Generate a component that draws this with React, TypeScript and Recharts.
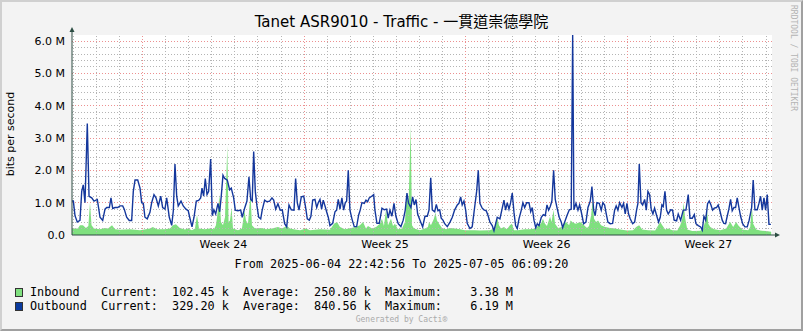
import React from 'react';
import { ComposedChart, Area, Line, XAxis, YAxis, ReferenceLine, CartesianGrid } from 'recharts';

// time axis in hours since 2025-06-04 22:42:56
const TOTAL_HOURS = 727.44;
const FIRST_MIDNIGHT = 1.285;
const weekLabels = ['Week 24', 'Week 25', 'Week 26', 'Week 27'];
const sundayIndexes = [3, 10, 17, 24];
const yTicks = [0, 1, 2, 3, 4, 5, 6];
const Y_MAX = 6.19;

// [hour, Mbit/s]
const inbound: [number, number][] = [
  [0, 0.2], [6, 0.2], [8.3, 0.3], [11.4, 0.3], [14.5, 0.22], [17, 0.28], [18.7, 1.0], [20.3, 0.3], [22.9, 0.2],
  [29, 0.18], [34.3, 0.22], [37.4, 0.2], [41.6, 0.3], [44.7, 0.18], [50, 0.16], [60, 0.18], [70.7, 0.15],
  [81, 0.2], [84, 0.25], [88.3, 0.18], [96.6, 0.18], [101.8, 0.2], [105, 0.3], [108, 0.33], [112, 0.22],
  [117.4, 0.17], [120.5, 0.2], [124.7, 0.15], [127.8, 0.2], [129.9, 0.62], [132, 0.2], [138, 0.18],
  [143.3, 0.2], [147.5, 0.18], [149.6, 0.3], [151.7, 0.77], [153.3, 1.24], [154.8, 0.4], [156.9, 0.3],
  [159, 0.55], [161.4, 2.76], [162.7, 0.4], [164.2, 0.45], [165.8, 0.85], [167.3, 0.2], [172.5, 0.15],
  [176.6, 0.2], [179.2, 0.75], [180.8, 0.45], [182.9, 0.35], [185.5, 1.3], [187, 0.3], [190.2, 0.2],
  [197.4, 0.22], [201.5, 0.18], [207.8, 0.2], [214, 0.25], [218.2, 0.2], [223.4, 0.28], [226.5, 0.2],
  [231.7, 0.17], [237, 0.15], [243.1, 0.2], [247.3, 0.15], [257.7, 0.18], [268.1, 0.16], [272.3, 0.35],
  [275.4, 0.4], [278.5, 0.25], [283.7, 0.18], [295.1, 0.25], [299.2, 0.3], [302.4, 0.4], [305.5, 0.2],
  [307.6, 0.28], [311.8, 0.2], [316, 0.25], [320, 0.35], [322.1, 0.5], [324.2, 0.28], [326.3, 0.77],
  [328.4, 0.3], [331.5, 0.5], [333.6, 0.28], [335.6, 0.35], [338.7, 0.18], [342.9, 0.2], [346, 0.4],
  [348.1, 1.3], [349.7, 0.9], [352, 3.38], [353.3, 0.3], [355.4, 0.2], [361.6, 0.15], [366.8, 0.2],
  [369.9, 0.25], [371, 0.4], [373, 0.3], [376.1, 0.5], [377.7, 0.7], [379.3, 0.45], [381.4, 0.35],
  [384.5, 0.22], [388.7, 0.18], [392.8, 0.22], [398, 0.2], [403.2, 0.18], [408.4, 0.15], [418.8, 0.15],
  [424, 0.14], [434.3, 0.15], [438.5, 0.2], [442.2, 0.5], [443.7, 0.3], [445.8, 0.2], [448.9, 0.25],
  [452, 0.18], [455.1, 0.3], [457.2, 0.35], [459.3, 0.15], [463.4, 0.15], [470.7, 0.18], [475.9, 0.18],
  [481.1, 0.2], [484.2, 0.28], [487.3, 0.35], [489.4, 0.5], [491.5, 0.35], [493.6, 0.28], [496.8, 0.57],
  [498.3, 0.4], [500.4, 0.77], [502, 0.35], [505.1, 0.22], [509.2, 0.25], [511.3, 0.33], [513.4, 0.4],
  [516.6, 0.3], [518.1, 0.45], [520.7, 0.38], [523.7, 0.35], [527.9, 0.4], [532.1, 0.3], [535.2, 0.22],
  [537.3, 0.28], [539.4, 0.6], [541.2, 1.08], [542.5, 0.5], [544.6, 0.4], [546.7, 0.45], [549.8, 0.3],
  [554, 0.25], [559.2, 0.22], [564.4, 0.2], [569.6, 0.17], [576.9, 0.14], [583.1, 0.15], [586.3, 0.25],
  [589.4, 0.3], [592.5, 0.17], [598.8, 0.15], [606, 0.14], [611.3, 0.4], [613.4, 0.3], [616.5, 0.17],
  [619.6, 0.2], [623.8, 0.15], [629, 0.14], [632.1, 0.3], [634.2, 0.5], [635.5, 1.0], [637.3, 0.5],
  [639.4, 0.17], [644.6, 0.12], [652.9, 0.13], [656, 0.2], [658.1, 0.45], [659.9, 0.77], [661.2, 0.35],
  [663.3, 0.25], [667.4, 0.18], [673.6, 0.15], [679.8, 0.2], [681.9, 0.3], [684, 0.4], [687.1, 0.25],
  [690.2, 0.4], [692.3, 0.3], [696.5, 0.17], [702.7, 0.15], [704.8, 0.25], [706.5, 0.88], [707.9, 0.35],
  [711, 0.17], [715.2, 0.14], [721.4, 0.12], [726.6, 0.1],
];

const outbound: [number, number][] = [
  [0, 1.05], [1.4, 1.05], [3.1, 0.6], [5.5, 0.4], [8.3, 0.45], [10.1, 1.35], [11.7, 1.55], [13.5, 1.0],
  [15.9, 3.45], [17.7, 1.2], [20.5, 1.15], [22.9, 1.05], [26.3, 1.1], [29.1, 0.55], [31.9, 0.45], [34.3, 0.8],
  [36.1, 0.85], [38.8, 0.85], [40.5, 1.15], [42.3, 0.82], [44.7, 0.85], [47.5, 0.85], [49.9, 0.9], [52.7, 0.9],
  [54.3, 0.8], [56.8, 0.55], [59.5, 0.45], [62, 0.45], [63.7, 1.35], [65.5, 1.7], [68.3, 1.7], [70.7, 1.45],
  [72.4, 1.0], [74.1, 0.98], [75.8, 0.55], [78.2, 0.5], [81, 0.7], [82.8, 1.0], [85.2, 1.25], [87.3, 1.15],
  [89.7, 0.9], [92.2, 1.2], [94.2, 0.85], [96.6, 0.8], [98.4, 1.15], [101.1, 0.55], [103.6, 0.3], [105.3, 0.75],
  [107, 2.2], [108.8, 1.2], [110.4, 0.9], [113.3, 1.05], [115.6, 0.9], [118.4, 0.8], [120.8, 0.75], [122.3, 0.55],
  [124.7, 0.25], [126.8, 0.55], [129.2, 1.05], [131.6, 1.07], [133.7, 1.15], [135.1, 1.45], [136.8, 1.2],
  [138.5, 1.75], [140.3, 1.25], [142, 1.35], [144.1, 2.35], [145.8, 0.6], [147.5, 0.78], [149.3, 0.65],
  [151.7, 0.98], [153.5, 0.72], [155.1, 1.2], [156.9, 1.85], [158.7, 1.75], [161.4, 1.7], [163.8, 1.4],
  [165.5, 1.45], [168, 1.15], [169.7, 0.77], [172.5, 0.75], [175.3, 0.77], [176.9, 0.55], [179.4, 0.83],
  [181.8, 1.05], [183.9, 1.8], [185.7, 1.1], [187.3, 1.05], [188.8, 2.58], [190.5, 1.35], [192.2, 0.9],
  [194, 0.55], [196.1, 0.5], [197.7, 0.78], [200.2, 1.08], [202.6, 1.03], [205.4, 1.05], [207.8, 1.15],
  [209.6, 1.08], [211.7, 0.8], [214, 0.97], [216.4, 0.77], [218.5, 0.78], [221, 0.35], [223.1, 0.25],
  [225.5, 0.93], [227.9, 0.78], [230.7, 0.77], [232.4, 1.75], [234.1, 1.0], [235.9, 0.77], [238.3, 1.18],
  [240.8, 1.2], [242.8, 0.85], [244.5, 0.5], [246.6, 0.46], [248.3, 0.58], [250.1, 1.08], [252.5, 1.1],
  [254.3, 0.85], [255.9, 1.0], [257.7, 1.1], [259.4, 0.8], [261.1, 1.08], [262.9, 0.9], [264.6, 0.72],
  [266.3, 0.55], [268.1, 0.29], [270.9, 0.36], [273.3, 0.72], [275, 0.77], [276.7, 1.1], [278.5, 0.8],
  [280.5, 1.15], [282.3, 0.77], [284, 1.0], [285.4, 1.05], [287.1, 2.0], [288.8, 0.78], [290.9, 0.5],
  [293.3, 0.26], [295.8, 0.26], [297.9, 0.62], [299.5, 0.77], [301.3, 1.0], [303.7, 0.98], [305.5, 1.08],
  [307.2, 1.03], [308.9, 1.15], [311.4, 1.2], [313.5, 1.25], [314.8, 0.77], [316.9, 0.36], [319.3, 0.36],
  [322.1, 0.83], [324.5, 0.78], [327, 0.8], [328.6, 0.52], [330.4, 0.77], [332.5, 0.58], [334.6, 0.98],
  [336.6, 0.58], [339, 0.35], [341.8, 0.26], [344.2, 0.46], [346.3, 0.77], [348.1, 1.3], [349.8, 0.98],
  [352.2, 0.85], [354, 1.18], [355.7, 0.93], [357.5, 1.1], [359.2, 0.65], [361.6, 0.46], [364.4, 0.25],
  [366.8, 0.58], [369.2, 0.58], [371, 0.77], [372.8, 1.77], [374.4, 0.78], [376.9, 0.72], [378.6, 0.95],
  [380.3, 0.75], [382.1, 0.78], [383.7, 0.52], [385.5, 0.46], [387.3, 0.35], [390, 0.26], [392.8, 0.4],
  [395.2, 0.55], [397.6, 0.77], [400.4, 0.93], [402.1, 0.98], [403.9, 1.18], [405.5, 0.93], [407.3, 1.05],
  [409.1, 0.77], [410.7, 0.36], [413.5, 0.2], [415.9, 0.25], [418.4, 0.85], [420.5, 1.35], [422.2, 2.0],
  [423.9, 0.98], [426.3, 0.83], [428.1, 0.78], [430.5, 0.75], [432.6, 0.58], [434.3, 0.4], [436.7, 0.29],
  [438.5, 0.13], [440.3, 0.35], [441.9, 0.55], [444.7, 0.5], [447.1, 0.83], [448.9, 1.08], [450.6, 0.77],
  [452.3, 1.0], [454.1, 0.8], [455.8, 1.0], [457.5, 1.3], [459.3, 0.7], [461, 0.29], [462.7, 0.2],
  [464.5, 0.5], [466.9, 0.77], [468.6, 1.0], [470.4, 0.85], [472.5, 1.0], [474.9, 1.0], [476.7, 0.72],
  [478.3, 0.85], [480.1, 0.46], [481.9, 0.23], [483.5, 0.35], [485.3, 0.29], [487.7, 0.55], [489.8, 0.63],
  [491.8, 0.6], [493.6, 0.93], [495.3, 0.77], [497, 0.88], [498.7, 1.05], [500.5, 2.0], [502.2, 1.1],
  [504, 0.85], [506.3, 0.55], [508.4, 0.4], [509.9, 0.23], [512, 0.4], [514.4, 0.6], [516.8, 0.78],
  [518.8, 0.8], [520.3, 6.19], [521.6, 0.78], [523.7, 0.98], [525.8, 0.77], [527.5, 0.93], [529.2, 0.72],
  [531.7, 0.35], [534.1, 0.4], [536.2, 0.85], [538.6, 1.05], [540.3, 1.5], [542.1, 0.77], [543.7, 0.6],
  [545.5, 1.0], [547.9, 0.98], [550, 0.77], [551.7, 1.0], [553.5, 0.93], [555.2, 0.65], [556.9, 0.4],
  [559.3, 0.35], [561.8, 0.36], [563.9, 0.77], [565.5, 0.9], [567.3, 0.77], [569.1, 1.0], [571.5, 0.85],
  [573.2, 0.98], [574.9, 0.65], [576.7, 0.98], [578.4, 0.65], [580.1, 0.5], [582.6, 0.35], [584.7, 0.4],
  [586.7, 0.77], [588.1, 0.98], [589.5, 2.2], [591.3, 1.0], [593, 0.93], [595.1, 1.1], [596.8, 0.77],
  [598.5, 1.35], [600.3, 1.25], [601.9, 0.8], [603.7, 0.65], [605.4, 0.83], [607.1, 0.65], [609.6, 0.4],
  [611.3, 0.55], [613, 0.93], [614.4, 0.88], [616.2, 1.35], [617.9, 0.77], [619.6, 0.65], [622.1, 0.78],
  [624.1, 0.77], [625.8, 0.46], [628.3, 0.44], [630, 0.65], [632.5, 0.46], [635.2, 0.77], [638, 0.77],
  [640.4, 1.25], [642.2, 0.52], [644.6, 0.52], [646.7, 0.63], [648.4, 0.35], [650.8, 0.29], [653.3, 0.25],
  [655, 0.15], [656.7, 0.58], [658.5, 0.46], [660.5, 0.97], [662.2, 1.05], [664, 0.93], [665.7, 0.77],
  [667.4, 0.83], [669.8, 0.85], [671.5, 0.93], [673.3, 0.75], [675.7, 0.46], [677.4, 0.36], [679.2, 0.35],
  [680.9, 0.58], [682.6, 0.8], [684.4, 1.1], [686.1, 0.75], [687.9, 0.85], [689.6, 0.85], [691.3, 1.15],
  [693.1, 0.85], [694.8, 0.58], [696.9, 0.35], [699.3, 0.25], [701.7, 0.25], [703.7, 0.46], [706.3, 0.85],
  [707.9, 1.7], [709.7, 0.78], [712.1, 0.78], [713.8, 0.97], [715.6, 1.2], [717.3, 0.77], [719.1, 1.15],
  [720.8, 0.77], [722.5, 1.25], [724.3, 0.33], [726.3, 0.33],
];

const legendRows = [
  { name: 'Inbound ', color: '#7fe07f', current: '102.45 k', average: '250.80 k', maximum: '  3.38 M' },
  { name: 'Outbound', color: '#0a3a9e', current: '329.20 k', average: '840.56 k', maximum: '  6.19 M' },
];

const inMap = new Map(inbound);
const outMap = new Map(outbound);
const hours = Array.from(new Set([...inbound.map((d) => d[0]), ...outbound.map((d) => d[0])])).sort((a, b) => a - b);
const data = hours.map((h) => ({ h, inb: inMap.has(h) ? inMap.get(h) : null, outb: outMap.has(h) ? outMap.get(h) : null }));

const dayLines = Array.from({ length: 31 }, (_, k) => FIRST_MIDNIGHT + 24 * k);
const weekCenters = weekLabels.map((_, i) => FIRST_MIDNIGHT + 24 * (sundayIndexes[i] + 3.5));
const minorY = Array.from({ length: 31 }, (_, i) => Math.round(i * 2) / 10).filter((v) => v > 0 && v % 1 !== 0);

const SANS = '"DejaVu Sans", "Noto Sans CJK TC", sans-serif';
const MONO = '"DejaVu Sans Mono", monospace';
const AXIS = '#2c4d43';
const MINOR = '#b4b4b4';
const MAJOR = '#ec9090';

export default function App() {
  return (
    <div style={{ position: 'relative', width: 803, height: 331, background: '#f3f3f3', boxSizing: 'border-box', borderTop: '2px solid #d0d0d0', borderLeft: '2px solid #d0d0d0', borderRight: '2px solid #a0a0a0', borderBottom: '2px solid #a0a0a0', overflow: 'hidden' }}>
      <style>{'body{margin:0}'}</style>
      <div style={{ position: 'absolute', left: -2, top: -2, width: 803, height: 331 }}>
        <div style={{ position: 'absolute', left: 0, width: 803, top: 13, textAlign: 'center', fontFamily: SANS, fontSize: 15, color: '#000', lineHeight: '18px' }}>
          Tanet ASR9010 - Traffic - 一貫道崇德學院
        </div>
        <div style={{ position: 'absolute', left: 10, top: 134, transform: 'translate(-50%, -50%) rotate(-90deg)', fontFamily: SANS, fontSize: 11, whiteSpace: 'nowrap', color: '#000' }}>
          bits per second
        </div>
        <div style={{ position: 'absolute', left: 789, top: 5, writingMode: 'vertical-rl', fontFamily: MONO, fontSize: 8, color: '#b4b4b4', whiteSpace: 'nowrap', lineHeight: '9px' }}>
          RRDTOOL / TOBI OETIKER
        </div>
        <div style={{ position: 'absolute', left: 0, top: 0 }}>
          <ComposedChart width={803} height={260} data={data} margin={{ top: 35, right: 31, bottom: 0, left: 0 }}>
            <CartesianGrid horizontal={false} vertical={false} fill="#ffffff" />
            {minorY.map((v) => (
              <ReferenceLine key={'my' + v} y={v} stroke={MINOR} strokeDasharray="1 2" shapeRendering="crispEdges" />
            ))}
            {dayLines.map((h, k) => (
              <ReferenceLine key={'d' + k} x={h} stroke={sundayIndexes.includes(k) ? MAJOR : MINOR} strokeDasharray="1 2" shapeRendering="crispEdges" />
            ))}
            {yTicks.filter((v) => v > 0).map((v) => (
              <ReferenceLine key={'My' + v} y={v} stroke={MAJOR} strokeDasharray="1 2" shapeRendering="crispEdges" />
            ))}
            <XAxis
              dataKey="h"
              type="number"
              domain={[0, TOTAL_HOURS]}
              ticks={weekCenters}
              interval={0}
              tickFormatter={(_v, i) => weekLabels[i]}
              tickLine={false}
              tickSize={3}
              height={25}
              axisLine={{ stroke: AXIS }}
              tick={{ fill: '#000', fontSize: 11, fontFamily: SANS }}
            />
            <YAxis
              type="number"
              domain={[0, Y_MAX]}
              ticks={yTicks}
              interval={0}
              width={72}
              tickLine={false}
              tickSize={0}
              tickMargin={7}
              axisLine={{ stroke: AXIS }}
              tickFormatter={(v) => (v === 0 ? '0.0' : v.toFixed(1) + ' M')}
              tick={{ fill: '#000', fontSize: 11, fontFamily: SANS }}
            />
            <Area type="linear" dataKey="inb" stroke="none" fill="#7fe07f" fillOpacity={1} connectNulls isAnimationActive={false} dot={false} activeDot={false} />
            <Line type="linear" dataKey="outb" stroke="#14379c" strokeWidth={1.4} connectNulls isAnimationActive={false} dot={false} activeDot={false} />
          </ComposedChart>
        </div>
        <svg style={{ position: 'absolute', left: 0, top: 0 }} width={803} height={331}>
          <line x1={72} y1={35} x2={72} y2={31} stroke={AXIS} />
          <polygon points="69.5,32 74.5,32 72,27" fill={AXIS} />
          <line x1={772} y1={235} x2={776} y2={235} stroke={AXIS} />
          <polygon points="775,232.5 775,237.5 780,235" fill={AXIS} />
        </svg>
        <div style={{ position: 'absolute', left: 0, width: 803, top: 257, textAlign: 'center', fontFamily: MONO, fontSize: 11.8, whiteSpace: 'pre', color: '#000' }}>
          From 2025-06-04 22:42:56 To 2025-07-05 06:09:20
        </div>
        {legendRows.map((r, i) => (
          <div key={r.name} style={{ position: 'absolute', left: 15, top: 285 + i * 14, display: 'flex', alignItems: 'center', fontFamily: MONO, fontSize: 11.8, whiteSpace: 'pre', color: '#000', lineHeight: '14px' }}>
            <span style={{ display: 'inline-block', width: 6, height: 7, background: r.color, border: '1px solid #333', marginRight: 7 }} />
            <span>{`${r.name}  Current:  ${r.current}  Average:  ${r.average}  Maximum:  ${r.maximum}`}</span>
          </div>
        ))}
        <div style={{ position: 'absolute', left: 0, width: 803, top: 315, textAlign: 'center', fontFamily: MONO, fontSize: 8, color: '#aaaaaa' }}>
          Generated by Cacti®
        </div>
      </div>
    </div>
  );
}
